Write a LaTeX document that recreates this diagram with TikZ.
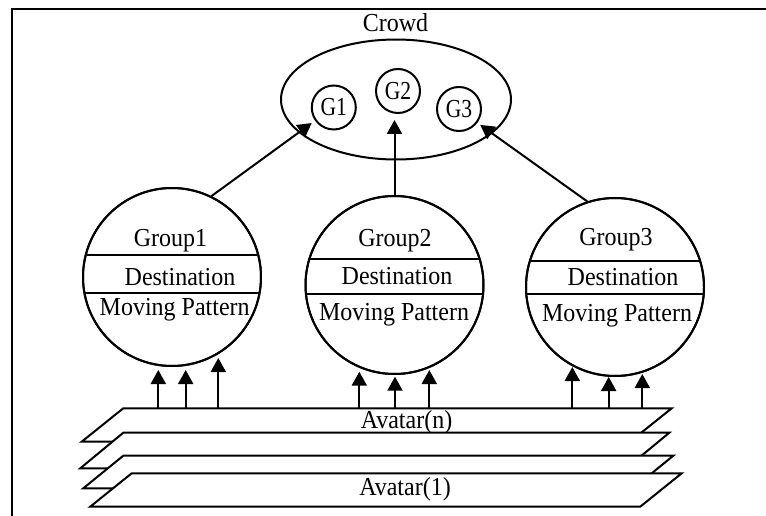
\documentclass[tikz,border=0pt]{standalone}
\usepackage{fontspec}
\setmainfont{Liberation Serif}
\usepackage{graphicx}
\usetikzlibrary{shapes.geometric,arrows.meta}
% slightly tall lettering used throughout
\newcommand\tallt[1]{\scalebox{1}[1.08]{#1}}
\newcommand\gtext[1]{\scalebox{0.9}[1.08]{#1}}
\begin{document}
\begin{tikzpicture}[x=1pt,y=-1pt,line width=2pt,
  lbl/.style={anchor=base,inner sep=0pt,font=\fontsize{24}{28}\selectfont},
  grp/.style={circle,draw,minimum size=178pt,inner sep=0pt},
  gsmall/.style={circle,draw,minimum size=44pt,inner sep=0pt,font=\fontsize{24}{28}\selectfont},
  crowdshape/.style={ellipse,draw,minimum width=230pt,minimum height=120pt,inner sep=0pt},
  arr/.style={-{Triangle[length=14pt,width=15pt]}},
  plane/.style={draw,fill=white,line join=miter}]
\useasboundingbox (0,0) rectangle (766,516);

% frame
\draw[line width=2.5pt] (766,9) -- (12,9) -- (12,516);

% crowd with its three groups
\node[crowdshape] (crowd) at (396,99.5) {};
\node[lbl] (crowdlbl) at (395.5,32) {\tallt{Crowd}};
\node[gsmall] (g1) at (333.8,107.5) {\gtext{G1}};
\node[gsmall] (g2) at (398,91) {\gtext{G2}};
\node[gsmall] (g3) at (459,109) {\gtext{G3}};

% group circles
\node[grp] (grp1) at (172,277) {};
\node[grp] (grp2) at (394.5,285) {};
\node[grp] (grp3) at (615,287) {};

% dividing chords inside each group
\begin{scope}
  \clip (grp1.center) circle (89pt);
  \draw (0,255) -- (766,255);
  \draw (0,293.3) -- (766,293.3);
\end{scope}
\begin{scope}
  \clip (grp2.center) circle (89pt);
  \draw (0,259.3) -- (766,259.3);
  \draw (0,294) -- (766,294);
\end{scope}
\begin{scope}
  \clip (grp3.center) circle (89pt);
  \draw (0,260.7) -- (766,260.7);
  \draw (0,294.3) -- (766,294.3);
\end{scope}
\node[grp] at (grp1.center) {};
\node[grp] at (grp2.center) {};
\node[grp] at (grp3.center) {};

% group texts
\node[lbl] (t1a) at (170.5,246) {\tallt{Group1}};
\node[lbl] (t1b) at (180,285) {\tallt{Destination}};
\node[lbl] (t1c) at (174.7,315) {\tallt{Moving Pattern}};
\node[lbl] (t2a) at (395,246) {\tallt{Group2}};
\node[lbl] (t2b) at (397,284.3) {\tallt{Destination}};
\node[lbl] (t2c) at (394,320) {\tallt{Moving Pattern}};
\node[lbl] (t3a) at (616,245) {\tallt{Group3}};
\node[lbl] (t3b) at (623,285) {\tallt{Destination}};
\node[lbl] (t3c) at (617,321.7) {\tallt{Moving Pattern}};

% groups feed the crowd
\draw[arr,shorten >=4pt] (grp1.64) -- (g1.215);
\draw[arr,shorten >=6pt] (grp2.north) -- (grp2.north |- g2.south);
\draw[arr,shorten >=3.5pt] (grp3.108) -- (g3.323);

% stacked avatar layers, back to front
\draw[plane] (123.3,408.3) -- (671.7,408.3) -- (630,441.7) -- (81.7,441.7) -- cycle;
\node[lbl] (avn) at (406.5,428) {\tallt{Avatar(n)}};
\draw[plane] (123.3,432.7) -- (669.3,432.7) -- (626.3,468.3) -- (80.3,468.3) -- cycle;
\draw[plane] (123.3,455.7) -- (673.3,455.7) -- (633.3,488.3) -- (83.3,488.3) -- cycle;
\draw[plane] (131.7,473.3) -- (681.7,473.3) -- (640.2,506.7) -- (90.2,506.7) -- cycle;
\node[lbl] (av1) at (405,495) {\tallt{Avatar(1)}};

% avatars feed each group
\foreach \n/\x/\tip in {a1/158.3/370, a2/185.7/370, a3/218.3/358,
                        b1/359.3/371.7, b2/395/376.7, b3/429.3/370,
                        c1/572.3/367, c2/608.7/377, c3/642.3/374}{
  \coordinate (\n base) at (\x,408.3);
  \coordinate (\n tip) at (\x,\tip);
  \draw[arr] (\n base) -- (\n tip);
}
\end{tikzpicture}
\end{document}
